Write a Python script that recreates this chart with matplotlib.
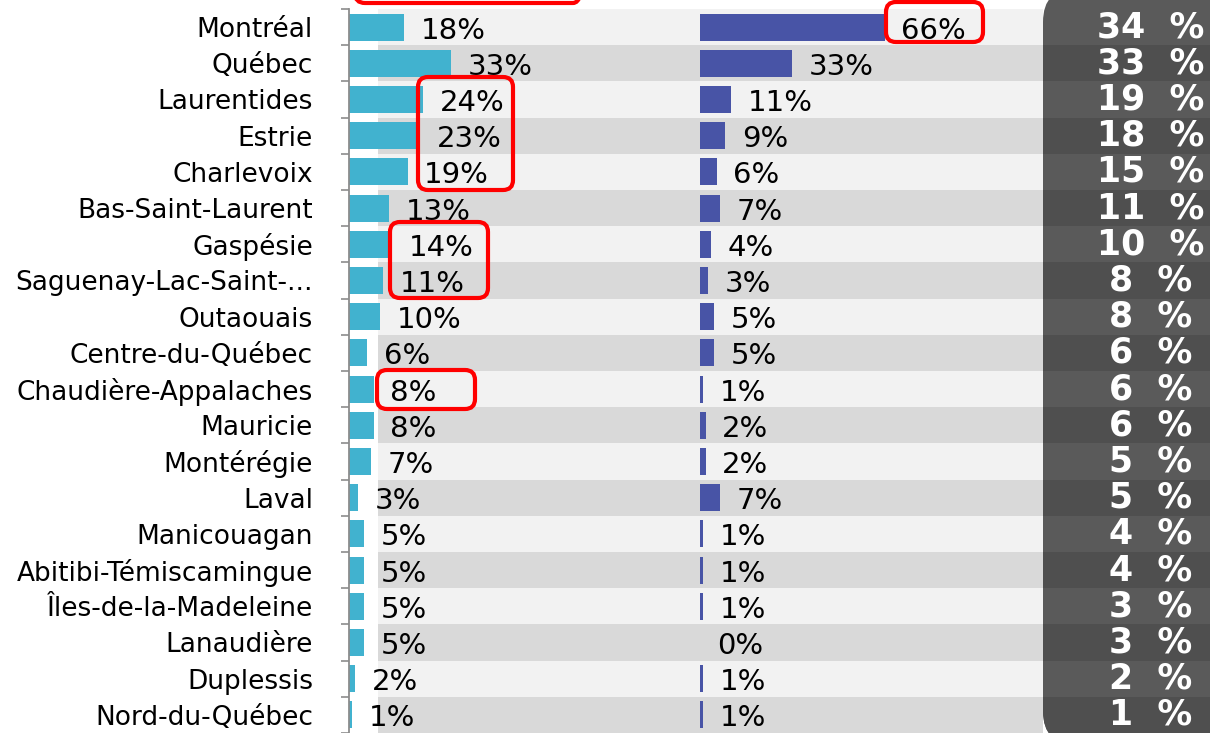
import matplotlib
matplotlib.use("Agg")
import matplotlib.pyplot as plt
import numpy as np
from matplotlib.patches import FancyBboxPatch
from matplotlib.transforms import blended_transform_factory

regions = ["Montréal", "Québec", "Laurentides", "Estrie", "Charlevoix",
           "Bas-Saint-Laurent", "Gaspésie", "Saguenay-Lac-Saint-...", "Outaouais",
           "Centre-du-Québec", "Chaudière-Appalaches", "Mauricie", "Montérégie",
           "Laval", "Manicouagan", "Abitibi-Témiscamingue", "Îles-de-la-Madeleine",
           "Lanaudière", "Duplessis", "Nord-du-Québec"]
left_pct = [18, 33, 24, 23, 19, 13, 14, 11, 10, 6, 8, 8, 7, 3, 5, 5, 5, 5, 2, 1]
right_pct = [66, 33, 11, 9, 6, 7, 4, 3, 5, 5, 1, 2, 2, 7, 1, 1, 1, 0, 1, 1]
total_pct = [34, 33, 19, 18, 15, 11, 10, 8, 8, 6, 6, 6, 5, 5, 4, 4, 3, 3, 2, 1]

W, H = 1210, 733
fig = plt.figure(figsize=(W / 100, H / 100), dpi=100)

n = len(regions)
top_px = 9
row_px = (H - top_px) / n
ylim = (n - 0.5, -0.5 - top_px / row_px)
rows = np.arange(n)

# background: row bands + dark box (pixel coords)
bg = fig.add_axes([0, 0, 1, 1], zorder=0)
bg.set_xlim(0, W)
bg.set_ylim(H, 0)
bg.axis("off")
box_x = 1043
for i in rows:
    y0 = top_px + row_px * i
    c = "#f2f2f2" if i % 2 == 0 else "#d9d9d9"
    bg.add_patch(plt.Rectangle((378, y0), box_x - 378, row_px, color=c, lw=0))

dark = FancyBboxPatch((box_x, -12), 400, H + 24,
                      boxstyle="round,pad=0,rounding_size=34",
                      fc="#5a5a5a", ec="none")
bg.add_patch(dark)
for i in rows:
    if i % 2 == 1:
        y0 = top_px + row_px * i
        r = plt.Rectangle((box_x - 5, y0), 300, row_px, color="#4f4f4f", lw=0)
        bg.add_patch(r)
        r.set_clip_path(dark)

# left bars
ax1 = fig.add_axes([349 / W, 0, (690 - 349) / W, 1], zorder=1)
ax1.patch.set_alpha(0)
ax1.barh(rows, left_pct, height=0.75, color="#41b2cf", lw=0)
ax1.set_xlim(0, 341 / 3.08)
ax1.set_ylim(*ylim)
for s in ["top", "right", "bottom"]:
    ax1.spines[s].set_visible(False)
ax1.spines["left"].set_color("#8c8c8c")
ax1.spines["left"].set_linewidth(1.3)
ax1.spines["left"].set_bounds(-0.5, n - 0.5)
ax1.set_xticks([])
ax1.set_yticks(rows)
ax1.set_yticklabels(regions, fontsize=19)
ax1.tick_params(axis="y", which="major", length=0, pad=26)
ax1.set_yticks(np.arange(-0.5, n), minor=True)
ax1.tick_params(axis="y", which="minor", length=6, width=1.2, color="#8c8c8c")
for i, v in enumerate(left_pct):
    ax1.annotate(f"{v}%", (v, i), xytext=(12, -2.5), textcoords="offset points",
                 va="center", ha="left", fontsize=21, color="black")

# right bars
ax2 = fig.add_axes([700 / W, 0, (box_x - 700) / W, 1], zorder=1)
ax2.patch.set_alpha(0)
ax2.barh(rows, right_pct, height=0.75, color="#4854a6", lw=0)
ax2.set_xlim(0, (box_x - 700) / 2.8)
ax2.set_ylim(*ylim)
ax2.axis("off")
for i, v in enumerate(right_pct):
    ax2.annotate(f"{v}%", (v, i), xytext=(12, -2.5), textcoords="offset points",
                 va="center", ha="left", fontsize=21, color="black")

# totals in dark column
tr = blended_transform_factory(fig.transFigure, ax2.transData)
for i, v in enumerate(total_pct):
    ax2.text(1151 / W, i, f"{v}  %", transform=tr, ha="center", va="center",
             fontsize=25, fontweight="bold", color="white", clip_on=False)

# red highlight boxes
ov = fig.add_axes([0, 0, 1, 1], zorder=3)
ov.set_xlim(0, W)
ov.set_ylim(H, 0)
ov.axis("off")
ov.patch.set_alpha(0)
highlights = [(355, -40, 228, 43), (418, 77, 95, 113), (886, 2, 97, 40),
              (390, 222, 98, 76), (377, 370, 98, 39)]
for x0, y0, w, h in highlights:
    ov.add_patch(FancyBboxPatch((x0, y0), w, h, boxstyle="round,pad=0,rounding_size=10",
                                fill=False, ec="#ff0000", lw=3))

fig.savefig("out.png", dpi=100)
